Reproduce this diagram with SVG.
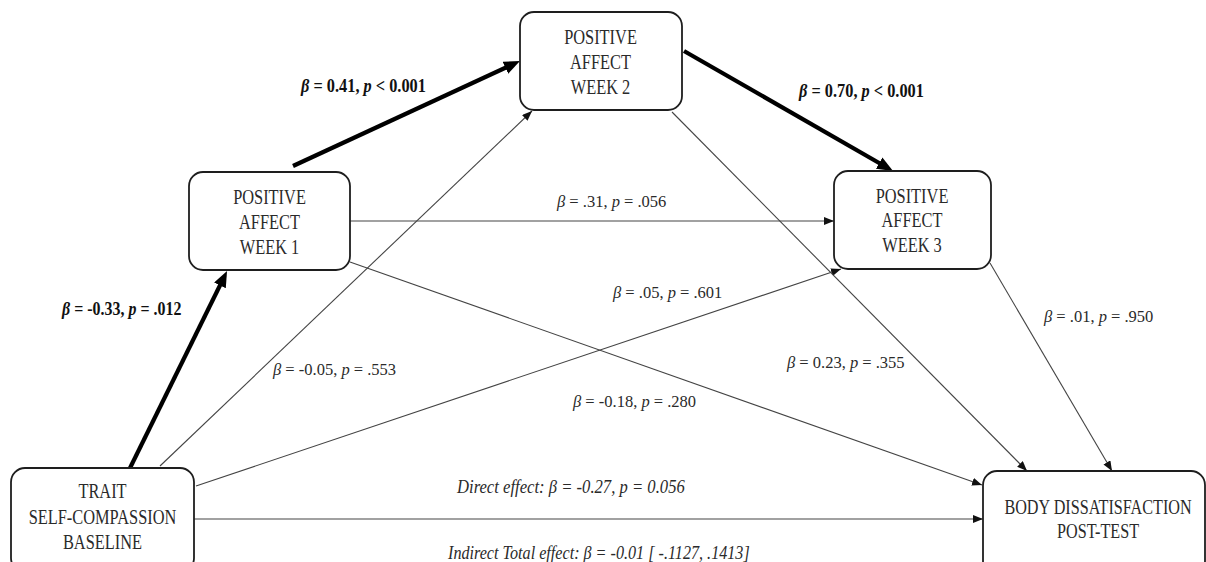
<svg xmlns="http://www.w3.org/2000/svg" width="1206" height="562" viewBox="0 0 1206 562">
<defs>
<style>
.box{fill:#fff;stroke:#1e1e1e;stroke-width:1.8}
.nt{font-family:"Liberation Serif","Times New Roman",serif;font-size:22px;fill:#2a2a2a;text-anchor:middle}
.lb{font-family:"Liberation Serif","Times New Roman",serif;font-size:16.5px;fill:#2a2a2a}
.bl{font-family:"Liberation Serif","Times New Roman",serif;font-size:19px;font-weight:bold;fill:#111}
.it{font-style:italic}
.thin{stroke:#444;stroke-width:1.1;fill:none;marker-end:url(#ah)}
.thick{stroke:#000;stroke-width:4.2;fill:none;marker-end:url(#ahb)}
</style>
<marker id="ah" markerUnits="userSpaceOnUse" markerWidth="12" markerHeight="10" refX="10" refY="4" orient="auto">
<path d="M0,0 L10,4 L0,8 z" fill="#111"/>
</marker>
<marker id="ahb" markerUnits="userSpaceOnUse" markerWidth="18" markerHeight="14" refX="8" refY="6.5" orient="auto">
<path d="M0,0 L16,6.5 L0,13 z" fill="#000"/>
</marker>
</defs>
<rect width="1206" height="562" fill="#fff"/>
<g id="connectors">
<line class="thick" x1="130" y1="468" x2="223.5" y2="278.2"/>
<line class="thick" x1="293" y1="166" x2="512.7" y2="64.4"/>
<line class="thick" x1="684" y1="51" x2="886.1" y2="167"/>
<line class="thin" x1="350" y1="221" x2="834" y2="221"/>
<line class="thin" x1="160" y1="466" x2="532" y2="111"/>
<line class="thin" x1="196" y1="486" x2="841" y2="269"/>
<line class="thin" x1="350" y1="262" x2="982" y2="485"/>
<line class="thin" x1="194" y1="519" x2="983" y2="519"/>
<line class="thin" x1="672" y1="112" x2="1027" y2="471"/>
<line class="thin" x1="990" y1="263" x2="1112" y2="471"/>
</g>
<g id="labels">
<text class="bl" transform="translate(301,92) scale(0.86,1)"><tspan class="it">β</tspan> = 0.41, <tspan class="it">p</tspan> &lt; 0.001</text>
<text class="bl" transform="translate(799,97) scale(0.86,1)"><tspan class="it">β</tspan> = 0.70, <tspan class="it">p</tspan> &lt; 0.001</text>
<text class="bl" transform="translate(62,315) scale(0.84,1)"><tspan class="it">β</tspan> = -0.33, <tspan class="it">p</tspan> = .012</text>
<text class="lb" x="557" y="207"><tspan class="it">β</tspan> = .31, <tspan class="it">p</tspan> = .056</text>
<text class="lb" x="613" y="298"><tspan class="it">β</tspan> = .05, <tspan class="it">p</tspan> = .601</text>
<text class="lb" x="273" y="375"><tspan class="it">β</tspan> = -0.05, <tspan class="it">p</tspan> = .553</text>
<text class="lb" x="573" y="407"><tspan class="it">β</tspan> = -0.18, <tspan class="it">p</tspan> = .280</text>
<text class="lb" x="787" y="368"><tspan class="it">β</tspan> = 0.23, <tspan class="it">p</tspan> = .355</text>
<text class="lb" x="1044" y="322"><tspan class="it">β</tspan> = .01, <tspan class="it">p</tspan> = .950</text>
<text class="lb it" transform="translate(457,493) scale(0.9,1)" style="font-size:18.5px">Direct effect: β = -0.27, p = 0.056</text>
<text class="lb it" transform="translate(448,559) scale(0.85,1)" style="font-size:19px">Indirect Total effect: β = -0.01 [ -.1127, .1413]</text>
</g>
<g id="node-week1">
<rect class="box" x="189" y="172" width="161" height="98" rx="14"/>
<text class="nt" transform="translate(269.5,204) scale(0.745,1)">POSITIVE</text>
<text class="nt" transform="translate(269.5,229) scale(0.745,1)">AFFECT</text>
<text class="nt" transform="translate(269.5,254) scale(0.745,1)">WEEK 1</text>
</g>
<g id="node-week2">
<rect class="box" x="520" y="12" width="162" height="98" rx="14"/>
<text class="nt" transform="translate(600.5,44) scale(0.745,1)">POSITIVE</text>
<text class="nt" transform="translate(600.5,69) scale(0.745,1)">AFFECT</text>
<text class="nt" transform="translate(600.5,94) scale(0.745,1)">WEEK 2</text>
</g>
<g id="node-week3">
<rect class="box" x="834" y="171" width="157" height="98" rx="14"/>
<text class="nt" transform="translate(912,203) scale(0.745,1)">POSITIVE</text>
<text class="nt" transform="translate(912,227) scale(0.745,1)">AFFECT</text>
<text class="nt" transform="translate(912,252) scale(0.745,1)">WEEK 3</text>
</g>
<g id="node-trait">
<rect class="box" x="11" y="468" width="183" height="104" rx="14"/>
<text class="nt" transform="translate(102.5,498) scale(0.745,1)">TRAIT</text>
<text class="nt" transform="translate(102.5,524) scale(0.745,1)">SELF-COMPASSION</text>
<text class="nt" transform="translate(102.5,549) scale(0.745,1)">BASELINE</text>
</g>
<g id="node-body">
<rect class="box" x="983" y="471" width="222" height="104" rx="14"/>
<text class="nt" transform="translate(1098,514) scale(0.735,1)">BODY DISSATISFACTION</text>
<text class="nt" transform="translate(1098,538) scale(0.735,1)">POST-TEST</text>
</g>
</svg>
